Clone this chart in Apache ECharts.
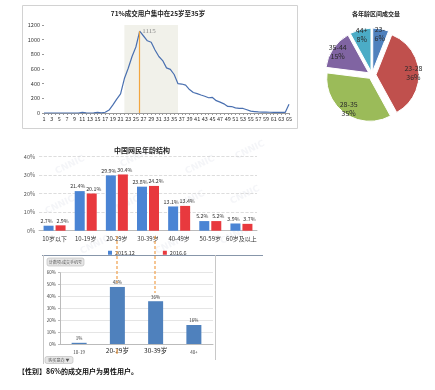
<!DOCTYPE html>
<html><head><meta charset="utf-8">
<script src="https://cdn.jsdelivr.net/npm/echarts@6/dist/echarts.min.js"></script>
<style>html,body{margin:0;padding:0;background:#fff}#c{width:435px;height:390px}</style>
</head><body><div id="c"></div>
<script>
// ---- data ----
const ageCats = ['1','2','3','4','5','6','7','8','9','10','11','12','13','14','15','16','17','18','19','20',
 '21','22','23','24','25','26','27','28','29','30','31','32','33','34','35','36','37','38','39','40',
 '41','42','43','44','45','46','47','48','49','50','51','52','53','54','55','56','57','58','59','60',
 '61','62','63','64','65'];
const ageCounts = [0,0,0,0,0,0,0,0,0,0, 8,2,0,2,8,2,10,40,110,190,
 260,470,610,770,900,1115,1050,985,965,860, 770,715,615,595,525,400,395,380,320,280,
 265,245,228,208,212,168,148,125,90,88, 70,64,62,45,25,20,15,12,12,10,
 8,8,8,8,120];
const peakAge = '26';
const peakValue = 1115;
const bandStart = '22', bandEnd = '36';
const ageTicks = [0,200,400,600,800,1000,1200];

const pieNames = ['23-','23-28','28-35','35-44','44+'];
const pieValues = [6,36,35,15,8];
const pieColors = ['#4f81bd','#c0504d','#9bbb59','#8064a2','#4bacc6'];

const netCats = ['10岁以下','10-19岁','20-29岁','30-39岁','40-49岁','50-59岁','60岁及以上'];
const net2015 = [2.7,21.4,29.9,23.8,13.1,5.2,3.9];
const net2016 = [2.9,20.1,30.4,24.2,13.4,5.2,3.7];

const buyCats = ['10-19','20-29岁','30-39岁','40+'];
const buyShare = [1,48,36,16];

// ---- chart ----
const FF = '"Noto Sans CJK SC","Noto Sans",sans-serif';
const chart = echarts.init(document.getElementById('c'), null, {renderer:'canvas'});

const pieData = pieNames.map((n,i)=>({name:n, value:pieValues[i], selected:true, itemStyle:{color:pieColors[i]}}));
const pieLabelData = pieNames.map((n,i)=>({name:n, value:pieValues[i], selected:true}));

const wm = [];
[[70,165],[135,158],[200,165],[250,150],[60,205],[125,205],[190,200],[245,195],[95,245],[170,245],[235,235]].forEach(p=>{
  wm.push({type:'text', x:p[0], y:p[1], rotation:Math.PI/7, silent:true, z:0,
    style:{text:'CNNIC', font:'bold 9px "DejaVu Sans"', fill:'rgba(170,175,200,0.13)', textAlign:'center', textVerticalAlign:'middle'}});
});

const option = {
  animation:false,
  textStyle:{fontFamily:FF},
  grid:[
    {left:44, right:146, top:25, bottom:277},
    {left:39, right:178, top:156.7, bottom:159.3},
    {left:60, right:222, top:272.7, bottom:46}
  ],
  legend:{data:['2015.12','2016.6'], left:103, top:245, itemWidth:4, itemHeight:4, itemGap:28, icon:'rect',
    textStyle:{fontSize:5.5, color:'#333', fontFamily:FF, padding:[0,0,0,-2]}},
  xAxis:[
    {gridIndex:0, type:'category', data:ageCats, boundaryGap:false,
      axisLabel:{interval:1, fontSize:5.5, color:'#333', margin:3},
      axisTick:{interval:0, length:2, lineStyle:{color:'#999'}},
      axisLine:{lineStyle:{color:'#999'}}},
    {gridIndex:1, type:'category', data:netCats,
      axisLabel:{interval:0, fontSize:6, color:'#333', margin:5},
      axisTick:{show:false}, axisLine:{lineStyle:{color:'#bbb'}}},
    {gridIndex:2, type:'category', data:buyCats,
      axisLabel:{interval:0, margin:3, formatter:(v,i)=> (i===1||i===2) ? '{b|'+v+'}' : '{s|'+v+'}',
        rich:{b:{fontSize:6.5, color:'#222'}, s:{fontSize:4.5, color:'#444', padding:[3,0,0,0]}}},
      axisTick:{show:false}, axisLine:{lineStyle:{color:'#bbb'}}}
  ],
  yAxis:[
    {gridIndex:0, type:'value', min:ageTicks[0], max:ageTicks[ageTicks.length-1], interval:200,
      axisLabel:{fontSize:5.5, color:'#333', margin:4, formatter:(v)=>String(v)},
      axisLine:{show:false}, axisTick:{show:true, length:2, lineStyle:{color:'#999'}},
      splitLine:{show:false}},
    {gridIndex:1, type:'value', min:0, max:40, interval:10,
      axisLabel:{formatter:'{value}%', fontSize:5.5, color:'#555', margin:4},
      axisLine:{show:false}, axisTick:{show:false},
      splitLine:{lineStyle:{color:'#d4d4d4', type:'dashed', width:0.8}}},
    {gridIndex:2, type:'value', min:0, max:60, interval:10,
      axisLabel:{formatter:'{value}%', fontSize:4.5, color:'#444', margin:4},
      axisLine:{show:true, lineStyle:{color:'#bbb'}}, axisTick:{show:true, length:2, lineStyle:{color:'#bbb'}},
      splitLine:{lineStyle:{color:'#dedede', width:0.8}}}
  ],
  series:[
    {type:'line', xAxisIndex:0, yAxisIndex:0, data:ageCounts, symbol:'none', z:3,
      lineStyle:{color:'#4a70b0', width:1.2},
      markArea:{silent:true, itemStyle:{color:'#f1f1ea'}, data:[[{xAxis:bandStart},{xAxis:bandEnd}]]},
      markLine:{silent:true, symbol:'none', animation:false, label:{show:false},
        lineStyle:{color:'#f2a640', width:1.2, type:'solid'},
        data:[[{coord:[peakAge,0]},{coord:[peakAge,peakValue]}]]},
      markPoint:{silent:true, symbol:'circle', symbolSize:1, itemStyle:{color:'rgba(0,0,0,0)'},
        label:{show:true, position:'right', distance:2, formatter:'{c}', fontSize:7, color:'#8a8a8a', fontFamily:'"Liberation Serif","DejaVu Serif",serif'},
        data:[{coord:[peakAge,peakValue], value:peakValue}]}
    },
    {name:'2015.12', type:'bar', xAxisIndex:1, yAxisIndex:1, data:net2015, barWidth:10, barGap:'20%',
      itemStyle:{color:'#4a84d4'},
      label:{show:true, position:'top', distance:2, offset:[-2,0], formatter:'{c}%', fontSize:5.3, color:'#333'}},
    {name:'2016.6', type:'bar', xAxisIndex:1, yAxisIndex:1, data:net2016, barWidth:10, barGap:'20%',
      itemStyle:{color:'#e8393e'},
      label:{show:true, position:'top', distance:2, offset:[2,0], formatter:'{c}%', fontSize:5.3, color:'#333'}},
    {type:'bar', xAxisIndex:2, yAxisIndex:2, data:buyShare, barWidth:15,
      itemStyle:{color:'#4f81bd'},
      label:{show:true, position:'top', distance:2, formatter:'{c}%', fontSize:4.5, color:'#333'}},
    {type:'pie', center:[372,75], radius:[0,43], startAngle:90, clockwise:true,
      selectedMode:'multiple', selectedOffset:4, silent:true,
      itemStyle:{borderColor:'#fff', borderWidth:1},
      label:{show:false}, labelLine:{show:false}, data:pieData},
    {type:'pie', center:[372,75], radius:[26,43], startAngle:90, clockwise:true,
      selectedMode:'multiple', selectedOffset:4, silent:true, z:5,
      itemStyle:{color:'rgba(0,0,0,0)', borderWidth:0},
      label:{show:true, position:'inside', formatter:'{b}\n{c}%', fontSize:7, lineHeight:9, color:'#2a2a2a'},
      labelLine:{show:false}, data:pieLabelData}
  ],
  graphic:[
    ...wm,
    {type:'rect', silent:true, shape:{x:22.5, y:5.5, width:275, height:123},
      style:{fill:'none', stroke:'#d2d2d2', lineWidth:1}},
    {type:'text', silent:true, style:{text:'71%成交用户集中在25岁至35岁', x:158, y:14, textAlign:'center', textVerticalAlign:'middle',
      font:'bold 6.5px "Noto Sans CJK SC"', fill:'#222'}},
    {type:'text', silent:true, style:{text:'各年龄区间成交量', x:376, y:14, textAlign:'center', textVerticalAlign:'middle',
      font:'bold 6px "Noto Sans CJK SC"', fill:'#222'}},
    {type:'text', silent:true, style:{text:'中国网民年龄结构', x:142, y:150, textAlign:'center', textVerticalAlign:'middle',
      font:'bold 7px "Noto Sans CJK SC"', fill:'#222'}},
    {type:'line', silent:true, shape:{x1:42, y1:255.5, x2:263, y2:255.5}, style:{stroke:'#8796aa', lineWidth:1}},
    {type:'line', silent:true, shape:{x1:43.5, y1:255, x2:43.5, y2:364}, style:{stroke:'#c8c8c8', lineWidth:1}},
    {type:'line', silent:true, shape:{x1:215.5, y1:255, x2:215.5, y2:360}, style:{stroke:'#c8c8c8', lineWidth:1}},
    {type:'rect', silent:true, shape:{x:47, y:258, width:37, height:8, r:2}, style:{fill:'#e6e6e6', stroke:'#b8b8b8', lineWidth:0.6}},
    {type:'text', silent:true, style:{text:'计数项:成交手机号', x:65.5, y:262, textAlign:'center', textVerticalAlign:'middle',
      font:'4px "Noto Sans CJK SC"', fill:'#555'}},
    {type:'rect', silent:true, shape:{x:45, y:356.5, width:28, height:7, r:2}, style:{fill:'#e6e6e6', stroke:'#b8b8b8', lineWidth:0.6}},
    {type:'text', silent:true, style:{text:'购买意向 ▼', x:59, y:360, textAlign:'center', textVerticalAlign:'middle',
      font:'4px "Noto Sans CJK SC"', fill:'#555'}},
    {type:'line', silent:true, z:10, shape:{x1:117, y1:236, x2:117, y2:283}, style:{stroke:'#f0a04b', lineWidth:1.2, lineDash:[3,2]}},
    {type:'line', silent:true, z:10, shape:{x1:155, y1:236, x2:155, y2:293}, style:{stroke:'#f0a04b', lineWidth:1.2, lineDash:[3,2]}},
    {type:'line', silent:true, z:10, shape:{x1:117, y1:349, x2:117, y2:354}, style:{stroke:'#f0a04b', lineWidth:1.2}},
    {type:'text', silent:true, style:{text:'【性别】86%的成交用户为男性用户。', x:18, y:371, textAlign:'left', textVerticalAlign:'middle',
      font:'bold 7px "Noto Sans CJK SC"', fill:'#111'}}
  ]
};
chart.setOption(option);
</script></body></html>
